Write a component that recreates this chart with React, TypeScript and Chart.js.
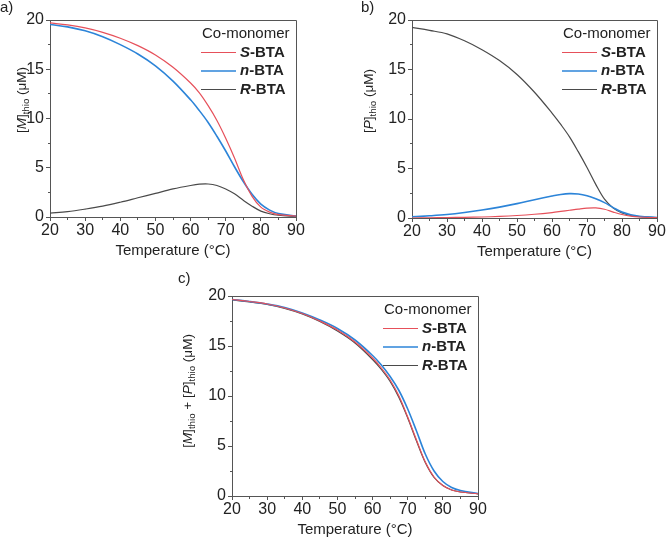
import React, { useEffect, useRef } from "react";
import { Chart, registerables } from "chart.js";

Chart.register(...registerables);

const FAMILY = '"Liberation Sans", Arial, sans-serif';
const FRAME = "#555555";
const TEXT = "#222222";

// ---- data ----
const temperatures = [20, 25, 30, 35, 40, 45, 50, 55, 60, 62.5, 65, 67.5, 70, 72.5, 75, 77.5, 80, 82.5, 85, 90];
const xTickValues = [20, 30, 40, 50, 60, 70, 80, 90];
const yTickValues = [0, 5, 10, 15, 20];
const seriesPrefixes = ["S", "n", "R"];
const seriesSuffix = "-BTA";
const seriesColors = ["#e6505a", "#2c84d8", "#4a4a4a"];
const seriesWidths = [1.2, 1.6, 1.2];
const legendTitle = "Co-monomer";
const xAxisTitle = "Temperature (°C)";

// panel a: [M]thio
const monomerS = [19.7, 19.5, 19.2, 18.75, 18.15, 17.4, 16.45, 15.2, 13.6, 12.6, 11.3, 9.8, 8.0, 6.0, 3.8, 2.1, 1.0, 0.5, 0.25, 0.08];
const monomerN = [19.55, 19.3, 18.9, 18.3, 17.5, 16.55, 15.35, 13.8, 11.9, 10.8, 9.6, 8.2, 6.7, 5.1, 3.6, 2.3, 1.3, 0.7, 0.35, 0.1];
const monomerR = [0.4, 0.55, 0.8, 1.1, 1.5, 1.95, 2.4, 2.85, 3.2, 3.33, 3.35, 3.2, 2.85, 2.35, 1.7, 1.1, 0.6, 0.33, 0.18, 0.06];

// panel b: [P]thio
const polymerS = [0.0, 0.02, 0.04, 0.07, 0.1, 0.16, 0.25, 0.38, 0.55, 0.66, 0.78, 0.9, 1.0, 1.02, 0.88, 0.6, 0.35, 0.18, 0.1, 0.03];
const polymerN = [0.12, 0.22, 0.35, 0.55, 0.8, 1.1, 1.45, 1.85, 2.22, 2.38, 2.46, 2.42, 2.25, 1.95, 1.55, 1.05, 0.6, 0.33, 0.18, 0.05];
const polymerR = [19.25, 18.95, 18.6, 17.9, 17.0, 15.9, 14.5, 12.7, 10.6, 9.45, 8.2, 6.7, 5.1, 3.4, 1.9, 1.0, 0.5, 0.25, 0.13, 0.04];

// panel c: [M]thio + [P]thio
const totalS = [19.65, 19.45, 19.2, 18.8, 18.25, 17.5, 16.6, 15.4, 13.8, 12.8, 11.6, 10.0, 7.9, 5.6, 3.4, 1.9, 1.05, 0.6, 0.4, 0.22];
const totalN = [19.65, 19.45, 19.2, 18.85, 18.3, 17.6, 16.75, 15.6, 14.05, 13.1, 11.95, 10.55, 8.7, 6.5, 4.2, 2.5, 1.45, 0.85, 0.55, 0.25];
const totalR = [19.6, 19.4, 19.15, 18.75, 18.2, 17.45, 16.5, 15.3, 13.65, 12.65, 11.45, 9.85, 7.8, 5.5, 3.35, 1.85, 1.05, 0.6, 0.4, 0.22];

type Seg = { text: string; italic?: boolean; sub?: boolean };

const yTitleA: Seg[] = [{ text: "[" }, { text: "M", italic: true }, { text: "]" }, { text: "thio", sub: true }, { text: " (μM)" }];
const yTitleB: Seg[] = [{ text: "[" }, { text: "P", italic: true }, { text: "]" }, { text: "thio", sub: true }, { text: " (μM)" }];
const yTitleC: Seg[] = [
  { text: "[" }, { text: "M", italic: true }, { text: "]" }, { text: "thio", sub: true },
  { text: " + [" }, { text: "P", italic: true }, { text: "]" }, { text: "thio", sub: true }, { text: " (μM)" },
];

type Box = {
  x0: number; y0: number; w: number; h: number;
  left: number; top: number; right: number; bottom: number;
  yTitleX: number; yTitleY: number; letterX: number; letterY: number;
};

const boxA: Box = { x0: 0, y0: 0, w: 333, h: 265, left: 50, top: 20, right: 296, bottom: 217, yTitleX: 22, yTitleY: 100, letterX: 0, letterY: 8 };
const boxB: Box = { x0: 333, y0: 0, w: 333, h: 266, left: 79, top: 20, right: 324, bottom: 218, yTitleX: 36, yTitleY: 101, letterX: 28, letterY: 8 };
const boxC: Box = { x0: 150, y0: 262, w: 350, h: 278, left: 82, top: 34, right: 328, bottom: 234, yTitleX: 38, yTitleY: 129, letterX: 28, letterY: 17 };

const Y_TITLE_SIZE = 13.5;
const TICK_SIZE = 16;

function fontStr(size: number, italic?: boolean, bold?: boolean) {
  return `${italic ? "italic " : ""}${bold ? "bold " : ""}${size}px ${FAMILY}`;
}

function drawRotatedRich(ctx: CanvasRenderingContext2D, parts: Seg[], x: number, y: number, size: number) {
  ctx.save();
  ctx.translate(x, y);
  ctx.rotate(-Math.PI / 2);
  ctx.fillStyle = TEXT;
  ctx.textBaseline = "middle";
  ctx.textAlign = "left";
  const subSize = size * 0.72;
  const widths = parts.map((p) => {
    ctx.font = fontStr(p.sub ? subSize : size, p.italic);
    return ctx.measureText(p.text).width;
  });
  const total = widths.reduce((a, b) => a + b, 0);
  let cx = -total / 2;
  parts.forEach((p, i) => {
    ctx.font = fontStr(p.sub ? subSize : size, p.italic);
    ctx.fillText(p.text, cx, p.sub ? size * 0.32 : 0);
    cx += widths[i];
  });
  ctx.restore();
}

function Panel({ letter, series, yTitle, box }: { letter: string; series: number[][]; yTitle: Seg[]; box: Box }) {
  const ref = useRef<HTMLCanvasElement>(null);

  useEffect(() => {
    const canvas = ref.current;
    if (!canvas) return;

    const deco = {
      id: "deco",
      afterDraw(chart: any) {
        const ctx: CanvasRenderingContext2D = chart.ctx;
        const a = chart.chartArea;
        const xs = chart.scales.x;
        const ys = chart.scales.y;
        ctx.save();
        ctx.strokeStyle = FRAME;
        ctx.lineWidth = 1;
        const topY = Math.round(a.top + 0.5) - 0.5;
        const rightX = Math.round(a.right + 0.5) - 0.5;
        const leftX = Math.round(a.left + 0.5) - 0.5;
        const botY = Math.round(a.bottom + 0.5) - 0.5;
        ctx.beginPath();
        ctx.moveTo(leftX, topY);
        ctx.lineTo(rightX, topY);
        ctx.lineTo(rightX, botY);
        ctx.stroke();
        // minor ticks
        ctx.beginPath();
        for (let i = 0; i < xTickValues.length - 1; i++) {
          const px = Math.round(xs.getPixelForValue((xTickValues[i] + xTickValues[i + 1]) / 2) + 0.5) - 0.5;
          ctx.moveTo(px, botY);
          ctx.lineTo(px, botY + 2.5);
        }
        for (let i = 0; i < yTickValues.length - 1; i++) {
          const py = Math.round(ys.getPixelForValue((yTickValues[i] + yTickValues[i + 1]) / 2) + 0.5) - 0.5;
          ctx.moveTo(leftX, py);
          ctx.lineTo(leftX - 2.5, py);
        }
        ctx.stroke();

        // legend
        ctx.textBaseline = "middle";
        ctx.textAlign = "left";
        ctx.fillStyle = TEXT;
        ctx.font = fontStr(15);
        ctx.fillText(legendTitle, a.right - 94, a.top + 14);
        chart.data.datasets.forEach((ds: any, i: number) => {
          const ly = a.top + 32.5 + i * 18.5;
          ctx.strokeStyle = ds.borderColor;
          ctx.lineWidth = ds.borderWidth;
          ctx.beginPath();
          ctx.moveTo(a.right - 95, ly);
          ctx.lineTo(a.right - 60, ly);
          ctx.stroke();
          ctx.fillStyle = TEXT;
          ctx.font = fontStr(15, true, true);
          const pre = seriesPrefixes[i];
          ctx.fillText(pre, a.right - 56, ly);
          const pw = ctx.measureText(pre).width;
          ctx.font = fontStr(15, false, true);
          ctx.fillText(seriesSuffix, a.right - 56 + pw, ly);
        });

        // panel letter
        ctx.font = fontStr(15);
        ctx.fillStyle = TEXT;
        ctx.fillText(letter, box.letterX, box.letterY);

        // y title
        drawRotatedRich(ctx, yTitle, box.yTitleX, box.yTitleY, Y_TITLE_SIZE);
        ctx.restore();
      },
    };

    const titleLine = 15 * 1.2;
    const titlePadBottom = Math.max(0, box.h - titleLine / 2 - box.bottom - 34);

    const chart = new Chart(canvas, {
      type: "line",
      data: {
        datasets: series.map((vals, i) => ({
          label: seriesPrefixes[i] + seriesSuffix,
          data: temperatures.map((t, j) => ({ x: t, y: vals[j] })),
          borderColor: seriesColors[i],
          backgroundColor: seriesColors[i],
          borderWidth: seriesWidths[i],
          pointRadius: 0,
          tension: 0.35,
          fill: false,
        })),
      },
      options: {
        animation: false,
        responsive: false,
        devicePixelRatio: 1,
        events: [],
        layout: { padding: { left: 0, top: box.top, right: box.w - box.right, bottom: 0 } },
        plugins: { legend: { display: false }, tooltip: { enabled: false } },
        scales: {
          x: {
            type: "linear",
            min: xTickValues[0],
            max: xTickValues[xTickValues.length - 1],
            afterBuildTicks: (s: any) => {
              s.ticks = xTickValues.map((v) => ({ value: v }));
            },
            afterFit: (s: any) => {
              s.height = box.h - box.bottom;
            },
            grid: { drawOnChartArea: false, drawTicks: true, tickLength: 4, color: FRAME },
            border: { display: true, color: FRAME, width: 1 },
            ticks: { font: { family: FAMILY, size: TICK_SIZE }, color: TEXT, padding: 0, maxRotation: 0, autoSkip: false },
            title: {
              display: true,
              text: xAxisTitle,
              font: { family: FAMILY, size: 15 },
              color: TEXT,
              padding: { top: 0, bottom: titlePadBottom },
            },
          },
          y: {
            type: "linear",
            min: yTickValues[0],
            max: yTickValues[yTickValues.length - 1],
            afterBuildTicks: (s: any) => {
              s.ticks = yTickValues.map((v) => ({ value: v }));
            },
            afterFit: (s: any) => {
              s.width = box.left;
            },
            grid: { drawOnChartArea: false, drawTicks: true, tickLength: 4, color: FRAME },
            border: { display: true, color: FRAME, width: 1 },
            ticks: { font: { family: FAMILY, size: TICK_SIZE }, color: TEXT, padding: 2, autoSkip: false },
          },
        },
      },
      plugins: [deco],
    });

    return () => chart.destroy();
  }, [letter, series, yTitle, box]);

  return (
    <canvas
      ref={ref}
      width={box.w}
      height={box.h}
      style={{ position: "absolute", left: box.x0, top: box.y0, width: box.w, height: box.h, display: "block" }}
    />
  );
}

const seriesA = [monomerS, monomerN, monomerR];
const seriesB = [polymerS, polymerN, polymerR];
const seriesC = [totalS, totalN, totalR];

export default function App() {
  return (
    <div
      style={{
        position: "fixed",
        left: 0,
        top: 0,
        width: 666,
        height: 540,
        overflow: "hidden",
        background: "#ffffff",
      }}
    >
      <Panel letter="a)" series={seriesA} yTitle={yTitleA} box={boxA} />
      <Panel letter="b)" series={seriesB} yTitle={yTitleB} box={boxB} />
      <Panel letter="c)" series={seriesC} yTitle={yTitleC} box={boxC} />
    </div>
  );
}
